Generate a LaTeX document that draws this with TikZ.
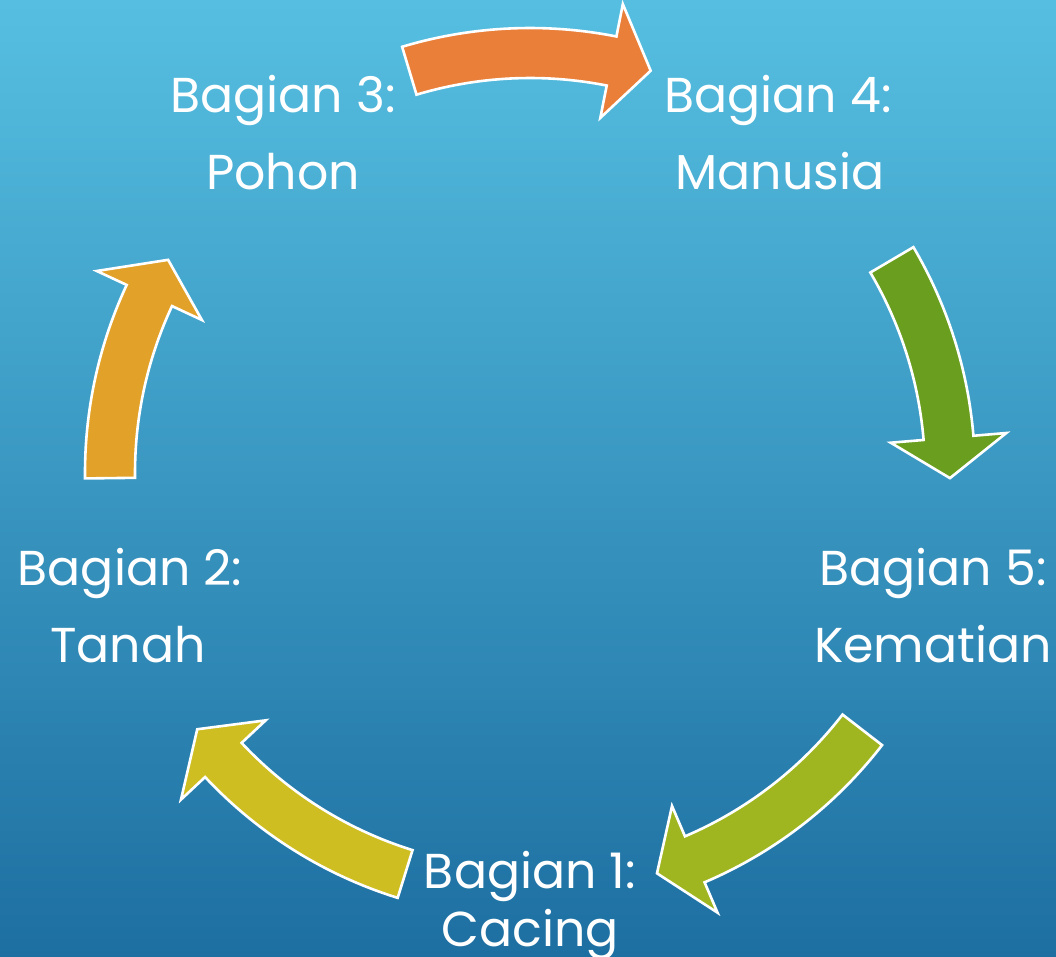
\documentclass[tikz,border=0pt]{standalone}
\usepackage{fontspec}
\setmainfont{Poppins}
\definecolor{bgtop}{RGB}{86,191,225}
\definecolor{bgbot}{RGB}{29,111,161}
\definecolor{cOrange}{RGB}{233,127,57}
\definecolor{cGreen}{RGB}{106,158,31}
\definecolor{cLime}{RGB}{160,182,33}
\definecolor{cYellow}{RGB}{206,190,33}
\definecolor{cGold}{RGB}{226,161,40}
\tikzset{
  arrowshape/.style={draw=white, line width=2.6pt, line join=miter},
  label/.style={text=white, anchor=base, inner sep=0pt, font=\fontsize{49}{58}\selectfont},
}
% #1 colour, #2 tail angle, #3 tip angle (clockwise)
\newcommand\cycarrow[3]{%
  \pgfmathsetmacro\hb{#3+5.5}%
  \filldraw[arrowshape, fill=#1]
    (#2:445pt) arc[start angle=#2, end angle=\hb, radius=445pt]
    -- (\hb:478pt) -- (#3:420pt) -- (\hb:362pt) -- (\hb:395pt)
    arc[start angle=\hb, end angle=#2, radius=395pt] -- cycle;
}
\begin{document}
\begin{tikzpicture}[x=1pt,y=1pt]
  \shade[top color=bgtop, bottom color=bgbot] (-530,-483) rectangle (526,473);
  \useasboundingbox (-530,-483) rectangle (526,473);
  % arrows
  \cycarrow{cOrange}{106.7}{73.3}
  \cycarrow{cGreen}{30.5}{-0.7}
  \cycarrow{cLime}{-37.7}{-72.4}
  \cycarrow{cYellow}{-107.3}{-142.4}
  \cycarrow{cGold}{180.7}{149.5}
  % labels
  \node[label] (b3a) at (-247,360) {Bagian 3:};
  \node[label] (b3b) at (-247,283) {Pohon};
  \node[label] (b4a) at (248,360) {Bagian 4:};
  \node[label] (b4b) at (250,283) {Manusia};
  \node[label] (b2a) at (-400,-112) {Bagian 2:};
  \node[label] (b2b) at (-402,-189) {Tanah};
  \node[label] (b5a) at (403,-112) {Bagian 5:};
  \node[label] (b5b) at (403,-189) {Kematian};
  \node[label] (b1a) at (0,-415) {Bagian 1:};
  \node[label] (b1b) at (0,-473) {Cacing};
\end{tikzpicture}
\end{document}
